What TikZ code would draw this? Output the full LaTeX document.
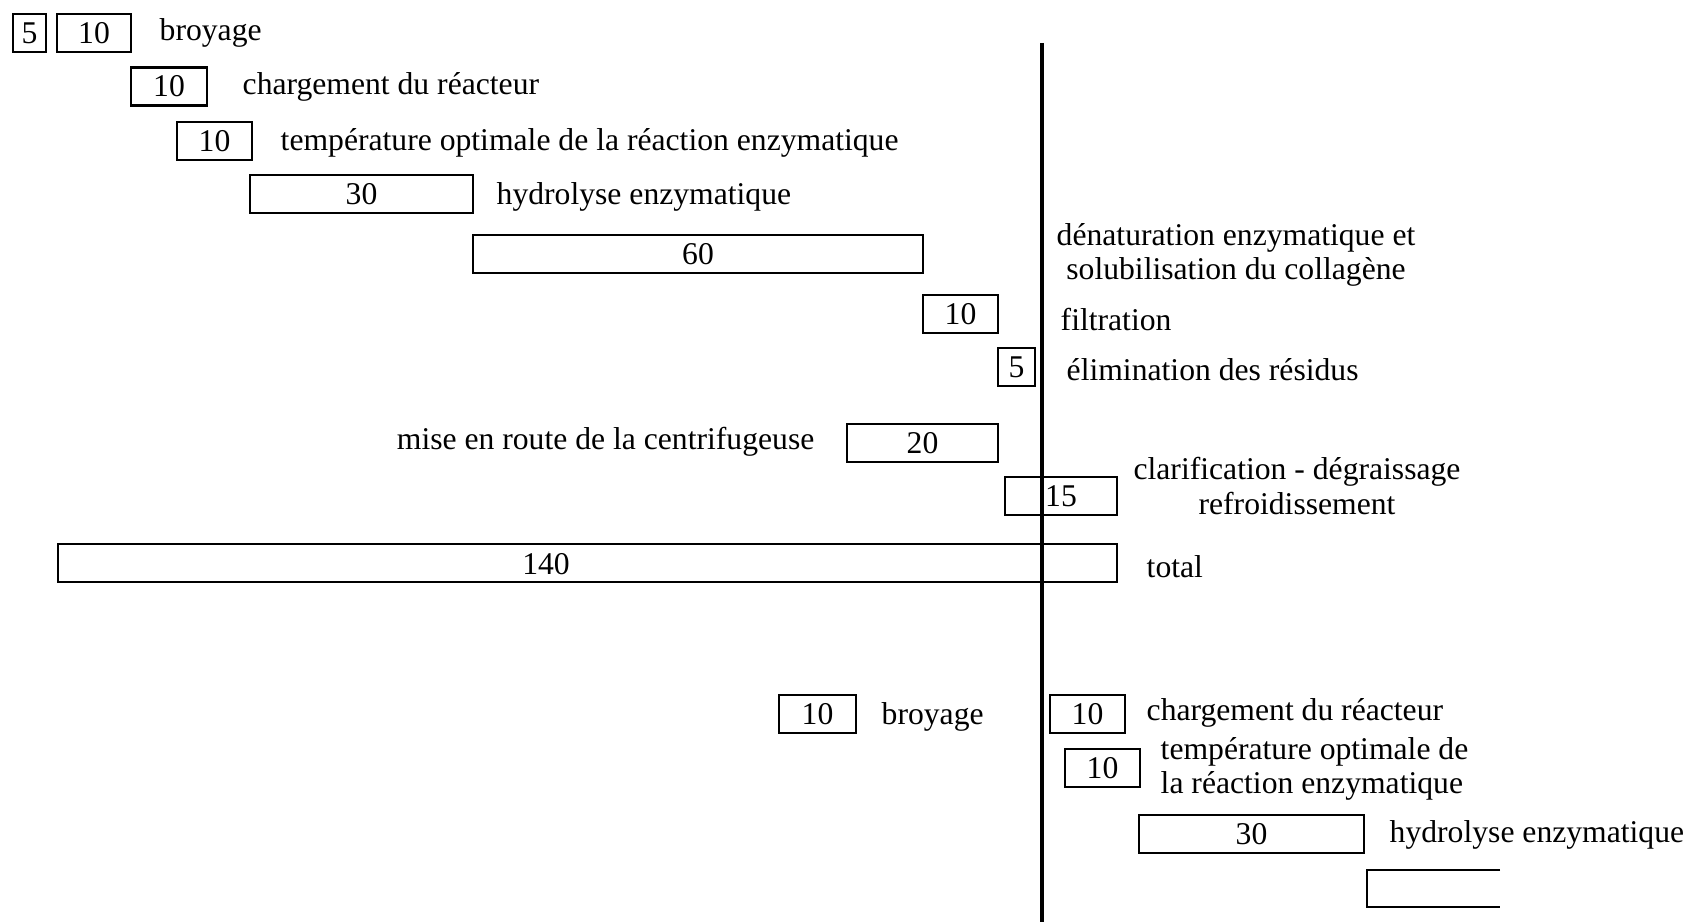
\documentclass[tikz,border=0pt]{standalone}
\usepackage{fontspec}
\setmainfont{Liberation Serif}
\usetikzlibrary{positioning}
\newcommand{\txt}{\fontsize{9}{9.7}\selectfont}
\tikzset{
  bar/.style={draw,line width=0.6pt,minimum height=0.38cm,inner sep=0pt,font=\txt},
  lbl/.style={anchor=west,inner sep=0pt,font=\txt},
  lblc/.style={inner sep=0pt,align=center,font=\txt},
}

\begin{document}
\begin{tikzpicture}[x=0.01cm,y=-0.01cm]
\useasboundingbox (0,0) rectangle (1688,922);
% axe des temps
\draw[line width=1.2pt] (1042,43) -- (1042,922);

% premier schema
\node[bar,minimum width=0.33cm] (broyA) at (29.5,33) {5};
\node[bar,minimum width=0.74cm] (broyB) at (94,33) {10};
\node[lbl] (tbroy) at (159,33) {broyage};
\node[bar,minimum width=0.76cm] (charg) at (169,86.5) {10};
\node[lbl] (tcharg) at (242,87) {chargement du réacteur};
\node[bar,minimum width=0.75cm] (temp) at (214.5,141) {10};
\node[lbl] (ttemp) at (280,143) {température optimale de la réaction enzymatique};
\node[bar,minimum width=2.23cm] (hydro) at (361.5,194) {30};
\node[lbl] (thydro) at (496,197) {hydrolyse enzymatique};
\node[bar,minimum width=4.50cm] (denat) at (698,254) {60};
\node[lblc] (tdenat) at (1236,255) {dénaturation enzymatique et\\solubilisation du collagène};
\node[bar,minimum width=0.75cm] (filtr) at (960.5,314) {10};
\node[lbl] (tfiltr) at (1060,320) {filtration};
\node[bar,minimum width=0.37cm] (elim) at (1016.5,367) {5};
\node[lbl] (telim) at (1066,370) {élimination des résidus};
\node[bar,minimum width=1.51cm] (centr) at (922.5,443) {20};
\node[lbl,anchor=east] (tcentr) at (815,442) {mise en route de la centrifugeuse};
\node[bar,minimum width=1.12cm] (clar) at (1061,496) {15};
\node[lblc] (tclar) at (1297,486) {clarification - dégraissage\\refroidissement};
\node[bar,minimum width=10.59cm] (total) at (587.5,563) {};
\node[font=\txt,inner sep=0pt] (ntotal) at (546,564) {140};
\node[lbl] (ttotal) at (1146,567) {total};

% second schema
\node[bar,minimum width=0.77cm] (broyC) at (817.5,714) {10};
\node[lbl] (tbroyC) at (881,717) {broyage};
\node[bar,minimum width=0.75cm] (chargC) at (1087.5,714) {10};
\node[lbl] (tchargC) at (1146,713) {chargement du réacteur};
\node[bar,minimum width=0.75cm] (tempC) at (1102.5,768) {10};
\node[lbl,align=left] (ttempC) at (1160,769) {température optimale de\\la réaction enzymatique};
\node[bar,minimum width=2.25cm] (hydroC) at (1251.5,834) {30};
\node[lbl] (thydroC) at (1389,835) {hydrolyse enzymatique};
\draw[line width=0.6pt] (1500,870) -- (1367,870) -- (1367,907) -- (1500,907);
\end{tikzpicture}
\end{document}
